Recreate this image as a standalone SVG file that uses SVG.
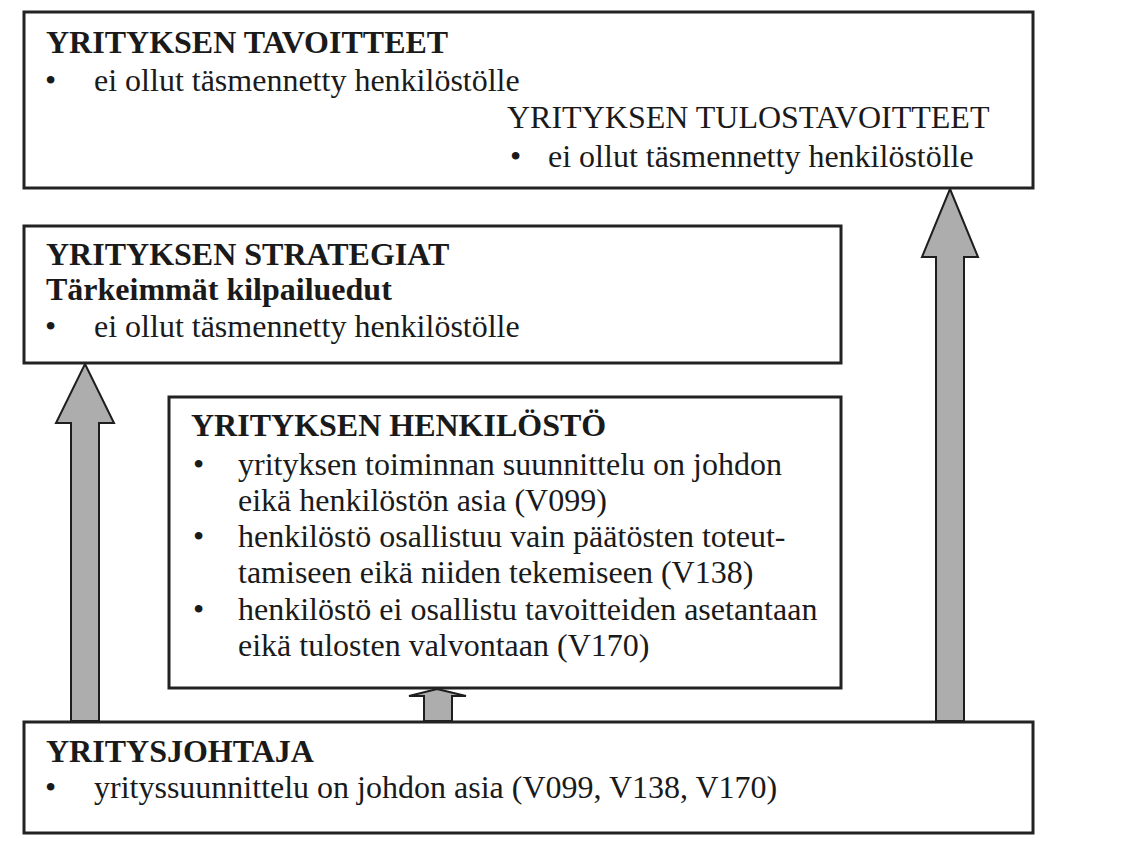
<svg xmlns="http://www.w3.org/2000/svg" width="1139" height="845" viewBox="0 0 1139 845">
  <style>
    .box { fill: #ffffff; stroke: #222222; stroke-width: 3; }
    .arrow { fill: #adadad; stroke: #1e1e1e; stroke-width: 2; stroke-linejoin: miter; }
    text { font-family: "Liberation Serif", "Times New Roman", serif; font-size: 32px; fill: #1a1a1a; }
    .b { font-weight: bold; }
  </style>
  <rect width="1139" height="845" fill="#ffffff"/>

  <!-- block arrows between the boxes -->
  <g id="connectors">
    <polygon class="arrow" points="85,364 114,423 99,423 99,721 71,721 71,423 56,423"/>
    <polygon class="arrow" points="950,189 978,257 964,257 964,721 936,721 936,257 922,257"/>
    <polygon class="arrow" points="437,689 466,696 452,696 452,721 424,721 424,696 409,696"/>
  </g>

  <g id="tavoitteet">
    <rect class="box" x="24" y="12" width="1009" height="176"/>
    <text class="b" x="46" y="53">YRITYKSEN TAVOITTEET</text>
    <text x="45" y="91">•</text>
    <text x="94" y="91">ei ollut täsmennetty henkilöstölle</text>
    <text x="507" y="128">YRITYKSEN TULOSTAVOITTEET</text>
    <text x="510" y="167">•</text>
    <text x="548" y="167">ei ollut täsmennetty henkilöstölle</text>
  </g>

  <g id="strategiat">
    <rect class="box" x="24" y="226" width="817" height="137"/>
    <text class="b" x="46" y="265">YRITYKSEN STRATEGIAT</text>
    <text class="b" x="46" y="300">Tärkeimmät kilpailuedut</text>
    <text x="45" y="337">•</text>
    <text x="94" y="337">ei ollut täsmennetty henkilöstölle</text>
  </g>

  <g id="henkilosto">
    <rect class="box" x="169" y="397" width="672" height="291"/>
    <text class="b" x="191" y="436">YRITYKSEN HENKILÖSTÖ</text>
    <text x="193" y="475">•</text>
    <text x="238" y="475">yrityksen toiminnan suunnittelu on johdon</text>
    <text x="238" y="511">eikä henkilöstön asia (V099)</text>
    <text x="193" y="547">•</text>
    <text x="238" y="547">henkilöstö osallistuu vain päätösten toteut-</text>
    <text x="238" y="583">tamiseen eikä niiden tekemiseen (V138)</text>
    <text x="193" y="620">•</text>
    <text x="238" y="620">henkilöstö ei osallistu tavoitteiden asetantaan</text>
    <text x="238" y="656">eikä tulosten valvontaan (V170)</text>
  </g>

  <g id="yritysjohtaja">
    <rect class="box" x="24" y="722" width="1009" height="111"/>
    <text class="b" x="46" y="762">YRITYSJOHTAJA</text>
    <text x="45" y="798">•</text>
    <text x="94" y="798">yrityssuunnittelu on johdon asia (V099, V138, V170)</text>
  </g>
</svg>
